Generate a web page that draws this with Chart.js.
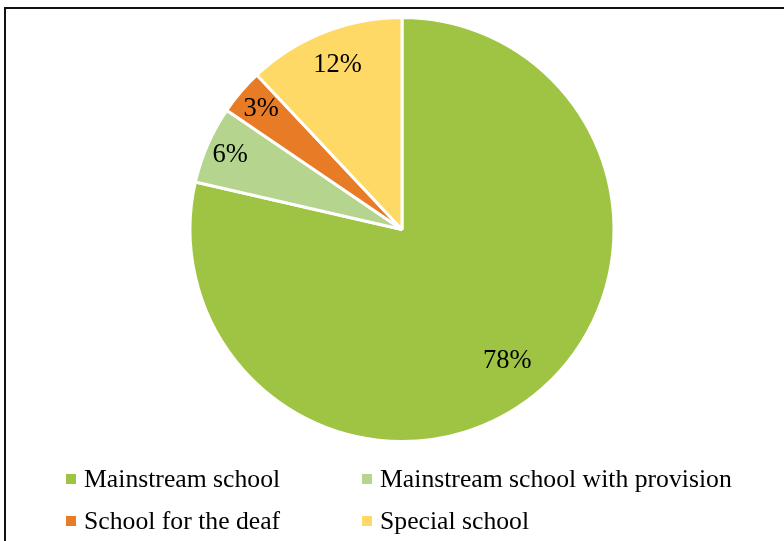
<!DOCTYPE html>
<html>
<head>
<meta charset="utf-8">
<script src="https://cdn.jsdelivr.net/npm/chart.js@4.4.1/dist/chart.umd.min.js"></script>
<style>
  html, body { margin: 0; padding: 0; background: #fff; }
  #wrap { position: relative; width: 784px; height: 541px; overflow: hidden; }
  #frame { position: absolute; left: 4px; top: 7px; right: -10px; bottom: -10px;
           border-left: 2px solid #111; border-top: 2px solid #111; }
  #c { position: absolute; left: 0; top: 0; }
  .leg { position: absolute; font-family: "Liberation Serif", "Times New Roman", serif;
         font-size: 25.7px; color: #000; white-space: nowrap; line-height: 1; }
  .sw { position: absolute; width: 10px; height: 10px; }
</style>
</head>
<body>
<div id="wrap">
  <div id="frame"></div>
  <canvas id="c" width="784" height="541"></canvas>
  <div id="legend"></div>
</div>
<script>
const categories = ["Mainstream school", "Mainstream school with provision", "School for the deaf", "Special school"];
const shares = [78.6, 5.9, 3.5, 12.0];
const shareLabels = ["78%", "6%", "3%", "12%"];
const colors = ["#9fc443", "#b5d48e", "#e87b26", "#ffd966"];

const labelRadius = [0.79, 0.89, 0.88, 0.84];

const labelPlugin = {
  id: 'sliceLabels',
  afterDatasetsDraw(chart) {
    const ctx = chart.ctx;
    const meta = chart.getDatasetMeta(0);
    ctx.save();
    ctx.font = '26.5px "Liberation Serif", "Times New Roman", serif';
    ctx.fillStyle = '#000';
    ctx.textAlign = 'center';
    ctx.textBaseline = 'middle';
    meta.data.forEach((arc, i) => {
      const p = arc.getProps(['x','y','startAngle','endAngle','outerRadius'], true);
      const mid = (p.startAngle + p.endAngle) / 2;
      const r = p.outerRadius * labelRadius[i];
      ctx.fillText(shareLabels[i], p.x + Math.cos(mid) * r + 1, p.y + Math.sin(mid) * r + 1);
    });
    ctx.restore();
  }
};

new Chart(document.getElementById('c'), {
  type: 'pie',
  data: {
    labels: categories,
    datasets: [{
      data: shares,
      backgroundColor: colors,
      borderColor: '#ffffff',
      borderWidth: 3
    }]
  },
  options: {
    responsive: false,
    animation: false,
    layout: { padding: { top: 16, bottom: 98, left: 20, right: 0 } },
    plugins: { legend: { display: false }, tooltip: { enabled: false } }
  },
  plugins: [labelPlugin]
});

// legend grid
const legPos = [[66, 479], [362, 479], [66, 521], [362, 521]];
const legend = document.getElementById('legend');
categories.forEach((name, i) => {
  const sw = document.createElement('div');
  sw.className = 'sw';
  sw.style.background = colors[i];
  sw.style.left = legPos[i][0] + 'px';
  sw.style.top = (legPos[i][1] - 5) + 'px';
  legend.appendChild(sw);
  const t = document.createElement('div');
  t.className = 'leg';
  t.textContent = name;
  t.style.left = (legPos[i][0] + 18) + 'px';
  t.style.top = (legPos[i][1] - 13) + 'px';
  legend.appendChild(t);
});
</script>
</body>
</html>
